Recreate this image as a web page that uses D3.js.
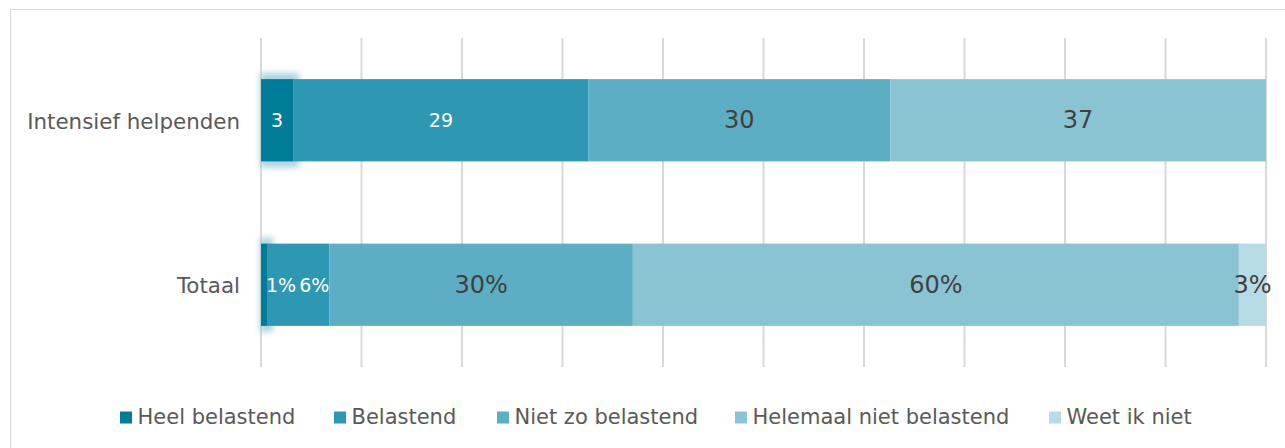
<!DOCTYPE html>
<html><head><meta charset="utf-8">
<script src="https://cdn.jsdelivr.net/npm/d3@7"></script>
<style>html,body{margin:0;padding:0;background:#fff;}svg{display:block;}</style>
</head><body>
<svg id="c" width="1285" height="448"></svg>
<script>
const categories = ["Intensief helpenden", "Totaal"];
const seriesNames = ["Heel belastend", "Belastend", "Niet zo belastend", "Helemaal niet belastend", "Weet ik niet"];
const seriesColors = ["#007C99", "#2E97B2", "#5DAEC4", "#8AC4D3", "#B7DCE6"];
const intensiefValues = [3.2, 29.4, 30.0, 37.4, 0];
const totaalValues = [0.6, 6.2, 30.2, 60.3, 2.7];
const intensiefLabels = ["3", "29", "30", "37", ""];
const totaalLabels = ["1%", "6%", "30%", "60%", "3%"];
const xTicks = [0, 10, 20, 30, 40, 50, 60, 70, 80, 90, 100];

const valuesByCat = [intensiefValues, totaalValues];
const labelsByCat = [intensiefLabels, totaalLabels];

const svg = d3.select("#c");
const font = "'DejaVu Sans', Verdana, sans-serif";

// outer frame
svg.append("rect").attr("x", 10.5).attr("y", 9.5).attr("width", 1300).attr("height", 460)
  .attr("fill", "#fff").attr("stroke", "#d9d9d9").attr("stroke-width", 1);

const x = d3.scaleLinear().domain([0, 100]).range([261, 1266]);
const y = d3.scaleBand().domain(categories).range([38, 367]).paddingInner(0.5).paddingOuter(0.25);

// gridlines
svg.append("g").selectAll("line").data(xTicks).join("line")
  .attr("x1", d => x(d)).attr("x2", d => x(d))
  .attr("y1", 38).attr("y2", 367)
  .attr("stroke", "#d9d9d9").attr("stroke-width", 2);

// glow filter
const defs = svg.append("defs");
const f = defs.append("filter").attr("id", "glow").attr("x", "-50%").attr("y", "-50%").attr("width", "200%").attr("height", "200%");
f.append("feGaussianBlur").attr("stdDeviation", 3);

// stacked data
const stack = categories.map((c, i) => {
  let acc = 0;
  return valuesByCat[i].map((v, j) => {
    const d = {cat: c, s: j, x0: acc, x1: acc + v, label: labelsByCat[i][j]};
    acc += v;
    return d;
  });
});

// glow behind first segment
stack.forEach(row => {
  const d = row[0];
  svg.append("rect")
    .attr("x", x(d.x0) - 1).attr("y", y(d.cat) - 6)
    .attr("width", x(d.x1) - x(d.x0) + 7).attr("height", y.bandwidth() + 12)
    .attr("fill", "#9ccbd9").attr("opacity", 0.85).attr("filter", "url(#glow)");
});

const bars = svg.append("g");
stack.forEach(row => {
  bars.selectAll(null).data(row.filter(d => d.x1 > d.x0)).join("rect")
    .attr("x", d => x(d.x0)).attr("y", d => y(d.cat))
    .attr("width", d => x(d.x1) - x(d.x0)).attr("height", y.bandwidth())
    .attr("fill", d => seriesColors[d.s]);
});

// value labels
stack.forEach(row => {
  let prevRight = x(0) + 2;
  row.forEach(d => {
    if (!d.label) return;
    const white = d.s < 2;
    const t = svg.append("text")
      .attr("font-family", font)
      .attr("font-size", white ? 19 : 24)
      .attr("fill", white ? "#ffffff" : "#404040")
      .attr("text-anchor", "middle")
      .attr("dominant-baseline", "central")
      .attr("y", y(d.cat) + y.bandwidth() / 2)
      .text(d.label);
    const w = t.node().getComputedTextLength();
    let cx = (x(d.x0) + x(d.x1)) / 2;
    if (cx - w / 2 < prevRight + 3) cx = prevRight + 3 + w / 2;
    t.attr("x", cx);
    prevRight = cx + w / 2;
  });
});

// category labels
svg.append("g").selectAll("text").data(categories).join("text")
  .attr("x", 240).attr("y", d => y(d) + y.bandwidth() / 2 + 1)
  .attr("text-anchor", "end").attr("dominant-baseline", "central")
  .attr("font-family", font).attr("font-size", 21.4).attr("fill", "#595959")
  .text(d => d);

// legend
const legendX = [120, 334, 497, 735, 1049];
const lg = svg.append("g").selectAll("g").data(seriesNames).join("g")
  .attr("transform", (d, i) => `translate(${legendX[i]},417)`);
lg.append("rect").attr("x", 0).attr("y", -5.5).attr("width", 12).attr("height", 12)
  .attr("fill", (d, i) => seriesColors[i]);
lg.append("text").attr("x", 17.5).attr("y", 0).attr("dominant-baseline", "central")
  .attr("font-family", font).attr("font-size", 21).attr("fill", "#595959")
  .text(d => d);
</script>
</body></html>
